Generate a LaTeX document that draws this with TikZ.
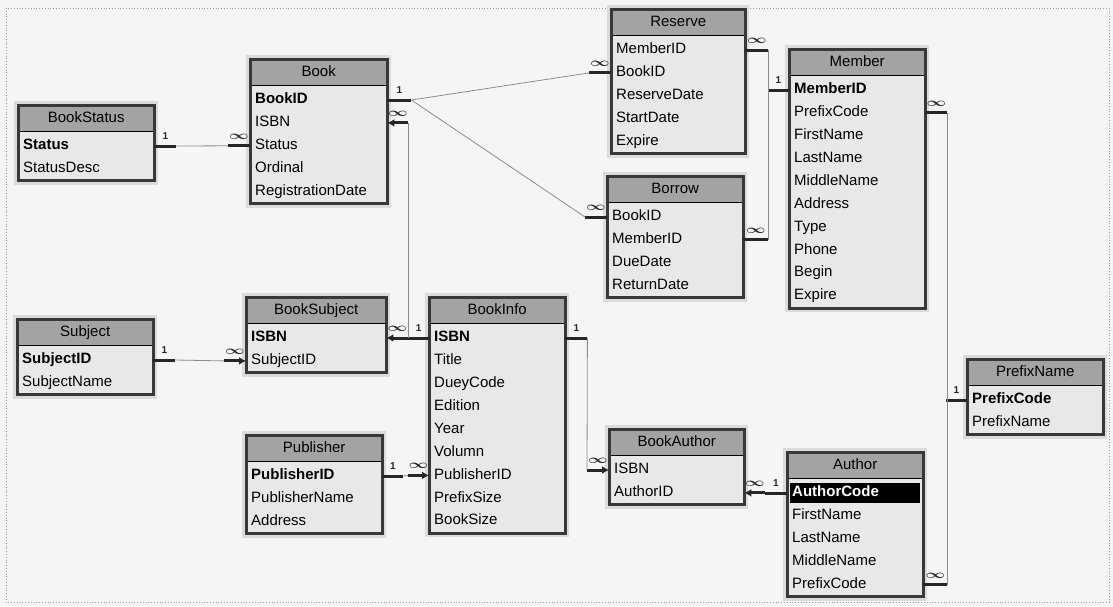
\documentclass[tikz,border=0pt]{standalone}
\usepackage{bm}
\usepackage{fontspec}
\setmainfont{Liberation Sans}
\usetikzlibrary{positioning,calc,arrows.meta}
\tikzset{>={Latex[length=7pt,width=8pt]}}
\tikzset{
  tblbody/.style={fill=black!9},
  tblhead/.style={anchor=north west, fill=black!36, minimum height=26, inner sep=0pt,
    text height=11pt, text depth=3pt, font=\fontsize{15}{15}\selectfont},
  tblrow/.style={anchor=west, minimum height=22.9, inner xsep=5pt, inner ysep=0pt,
    text height=11pt, text depth=3.5pt, font=\fontsize{15}{15}\selectfont},
  tblframe/.style={draw=black!78, line width=3pt},
  tblhalo/.style={draw=black!14, line width=8pt},
  stub/.style={line width=3pt, black!85},
  link/.style={black!45, line width=0.8pt},
  card/.style={above=5pt, inner sep=0pt, font=\bfseries\fontsize{10}{10}\selectfont},
}
\newcommand\manymark{\scalebox{1.7}[1.2]{$\bm{\infty}$}}
\newcommand\selfield[1]{{\setlength\fboxsep{0pt}\hspace*{-2pt}\colorbox{black}{\rule[-6pt]{0pt}{20pt}\makebox[\dimexpr\linewidth+4pt\relax][l]{\hspace{2pt}\color{white}\bfseries #1}}}}
% name, left, top, width, title, fields
\newcommand\erTable[6]{%
  \foreach \field [count=\n] in {#6} {\xdef\nrows{\n}}
  \pgfmathsetmacro\tw{#4-10}
  \draw[tblhalo] (#2,#3) rectangle ++(#4,{30+\nrows*22.9});
  \fill[tblbody] (#2,#3) rectangle ++(#4,{30+\nrows*22.9});
  \node[tblhead, minimum width=#4] (#1) at (#2,#3) {#5};
  \foreach \field [count=\i] in {#6}
    \node[tblrow, text width=\tw pt] (#1-\i) at (#2,{#3+41+(\i-1)*22.9}) {\field};
  \draw[black, line width=1.5pt] (#1.south west) -- (#1.south east);
  \draw[tblframe] (#2,#3) rectangle ++(#4,{30+\nrows*22.9});
}

\begin{document}
\begin{tikzpicture}[x=1pt,y=-1pt]
\useasboundingbox (0,0) rectangle (1113,606);
\fill[black!4] (0,0) rectangle (1113,606);
\draw[black!40, dotted, line width=0.8pt] (6,8) rectangle (1109,602);

\erTable{bookstatus}{18}{105}{136}{BookStatus}{\bfseries Status, StatusDesc}
\erTable{book}{250}{59}{137}{Book}{\bfseries BookID, ISBN, Status, Ordinal, RegistrationDate}
\erTable{reserve}{611}{9}{134}{Reserve}{MemberID, BookID, ReserveDate, StartDate, Expire}
\erTable{borrow}{607}{176}{136}{Borrow}{BookID, MemberID, DueDate, ReturnDate}
\erTable{member}{789}{49}{136}{Member}{\bfseries MemberID, PrefixCode, FirstName, LastName, MiddleName, Address, Type, Phone, Begin, Expire}
\erTable{subject}{17}{319}{136}{Subject}{\bfseries SubjectID, SubjectName}
\erTable{booksubject}{246}{297}{140}{BookSubject}{\bfseries ISBN, SubjectID}
\erTable{publisher}{246}{435}{136}{Publisher}{\bfseries PublisherID, PublisherName, Address}
\erTable{bookinfo}{429}{297}{136}{BookInfo}{\bfseries ISBN, Title, DueyCode, Edition, Year, Volumn, PublisherID, PrefixSize, BookSize}
\erTable{bookauthor}{609}{429}{135}{BookAuthor}{ISBN, AuthorID}
\erTable{author}{787}{452}{136}{Author}{\selfield{AuthorCode}, FirstName, LastName, MiddleName, PrefixCode}
\erTable{prefixname}{967}{359}{136}{PrefixName}{\bfseries PrefixCode, PrefixName}

% BookStatus -- Book
\draw[stub] (bookstatus-1.east) -- node[card] {1} ++(22,0) coordinate (st1);
\draw[stub] (book-3.west) -- node[card] {\manymark} ++(-22,0) coordinate (st2);
\draw[link] (st1) -- (st2);
% Book -- Reserve, Borrow
\draw[stub] (book-1.east) -- node[card] {1} ++(24,0) coordinate (bk1);
\draw[stub] (reserve-2.west) -- node[card] {\manymark} ++(-22,0) coordinate (bk2);
\draw[stub] (borrow-1.west) -- node[card] {\manymark} ++(-22,0) coordinate (bk3);
\draw[link] (bk1) -- (bk2);
\draw[link] (bk1) -- (bk3);
% BookInfo -- Book, BookSubject
\draw[stub,<-] (book-2.east) -- node[card] {\manymark} ++(21,0) coordinate (is1);
\draw[stub,<-] (booksubject-1.east) -- node[card] {\manymark} ++(22,0) coordinate (is2);
\draw[stub] (bookinfo-1.west) -- node[card] {1} (is2);
\draw[link] (is1) -- (is2);
% Subject -- BookSubject
\draw[stub] (subject-1.east) -- node[card] {1} ++(22,0) coordinate (sb1);
\draw[stub,<-] (booksubject-2.west) -- node[card] {\manymark} ++(-22,0) coordinate (sb2);
\draw[link] (sb1) -- (sb2);
% Publisher -- BookInfo
\draw[stub] (publisher-1.east) -- node[card] {1} ++(21,0) coordinate (pb1);
\draw[stub,<-] (bookinfo-7.west) -- node[card] {\manymark} ++(-21,0) coordinate (pb2);
\draw[link] (pb1) -- (pb2);
% BookInfo -- BookAuthor
\draw[stub] (bookinfo-1.east) -- node[card] {1} ++(22,0) coordinate (ba1);
\draw[stub,<-] (bookauthor-1.west) -- node[card] {\manymark} ++(-22,0) coordinate (ba2);
\draw[link] (ba1) -- (ba2);
% Author -- BookAuthor
\draw[stub] (author-1.west) -- node[card] {1} ++(-22,0) coordinate (au1);
\draw[stub,<-] (bookauthor-2.east) -- node[card] {\manymark} ++(21,0) coordinate (au2);
% Member -- Reserve, Borrow
\draw[stub] (member-1.west) -- node[card] {1} ++(-21,0) coordinate (mb1);
\draw[stub] (reserve-1.east) -- node[card] {\manymark} ++(23,0) coordinate (mb2);
\draw[stub] (borrow-2.east) -- node[card] {\manymark} ++(25,0) coordinate (mb3);
\draw[link] (mb2) -- (mb3);
% PrefixName -- Member, Author
\draw[stub] (prefixname-1.west) -- node[card] {1} ++(-21,0) coordinate (px1);
\draw[stub] (member-2.east) -- node[card] {\manymark} ++(22,0) coordinate (px2);
\draw[stub] (author-5.east) -- node[card] {\manymark} ++(24,0) coordinate (px3);
\draw[link] (px2) -- (px3);
\end{tikzpicture}
\end{document}
